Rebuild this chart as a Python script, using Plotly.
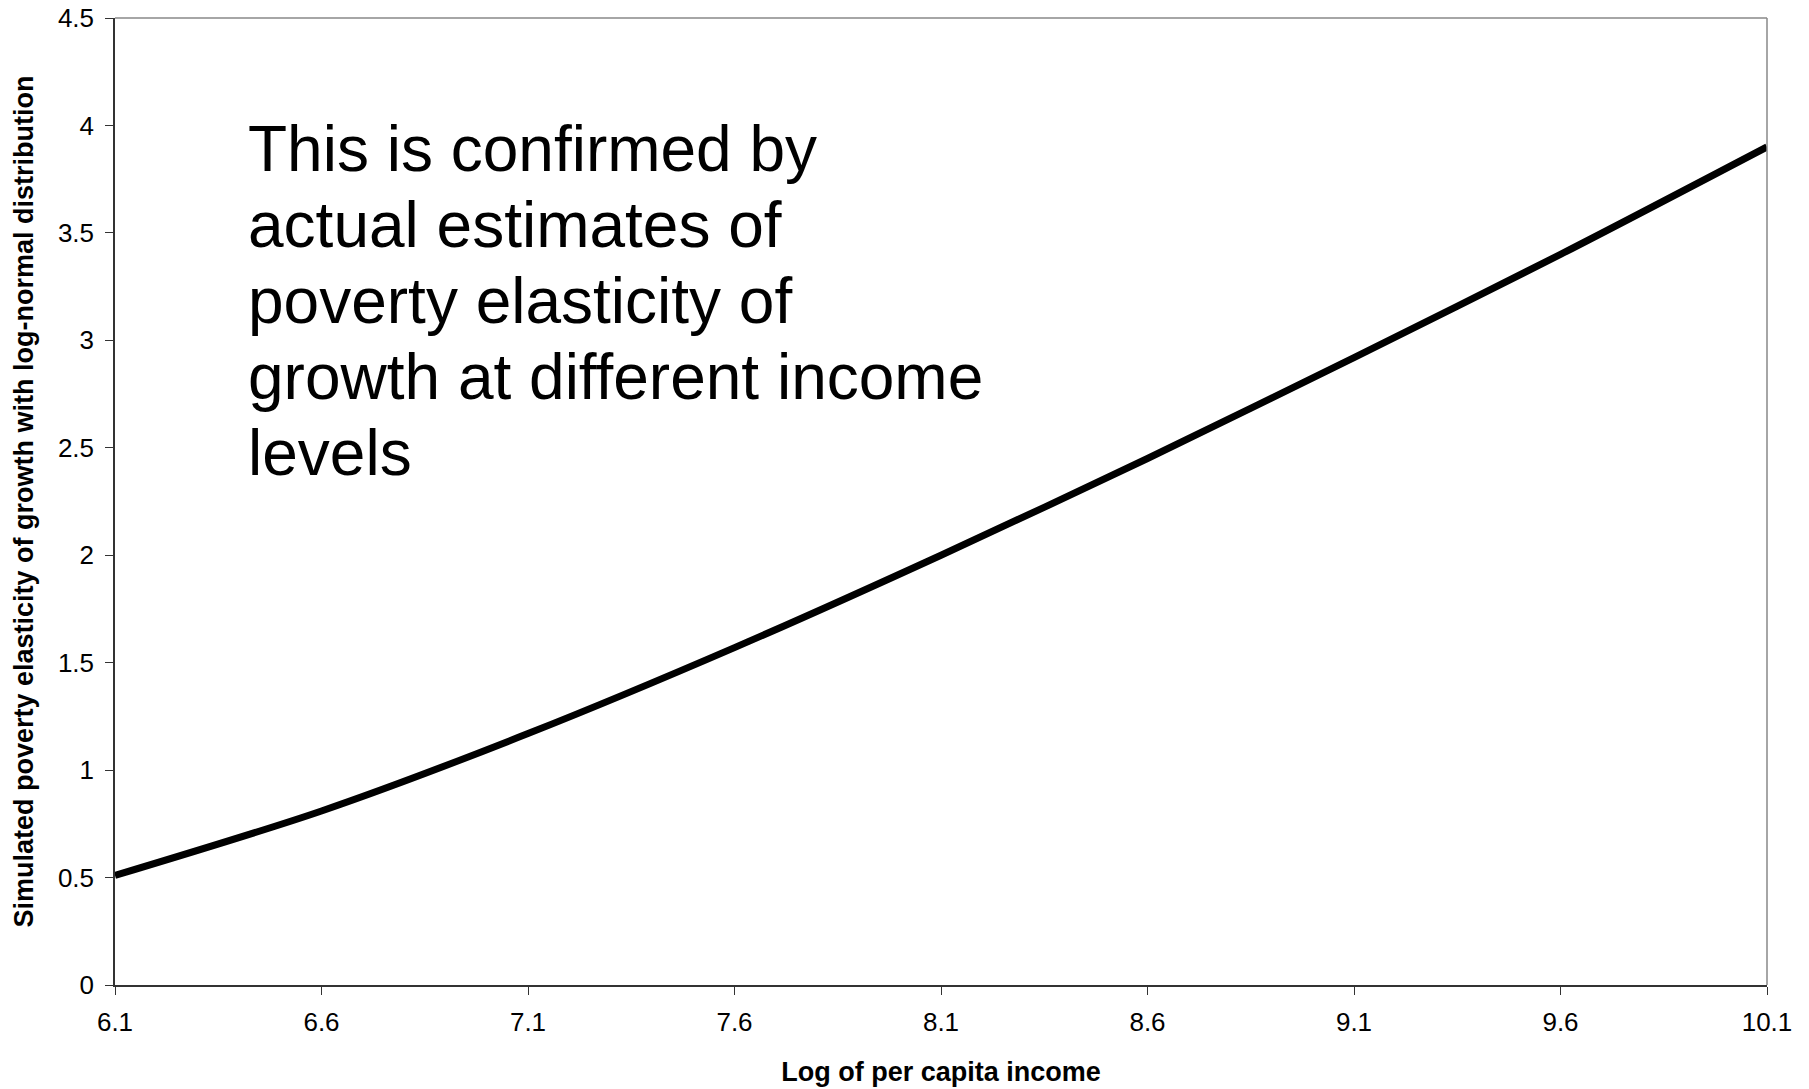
import plotly.graph_objects as go

# Data
log_income = [6.1, 6.6, 7.1, 7.6, 8.1, 8.6, 9.1, 9.6, 10.1]
elasticity = [0.51, 0.81, 1.17, 1.57, 2.00, 2.45, 2.92, 3.40, 3.90]

x_ticks = [6.1, 6.6, 7.1, 7.6, 8.1, 8.6, 9.1, 9.6, 10.1]
x_tick_text = ["6.1", "6.6", "7.1", "7.6", "8.1", "8.6", "9.1", "9.6", "10.1"]
y_ticks = [0, 0.5, 1, 1.5, 2, 2.5, 3, 3.5, 4, 4.5]
y_tick_text = ["0", "0.5", "1", "1.5", "2", "2.5", "3", "3.5", "4", "4.5"]

x_title = "Log of per capita income"
y_title = "Simulated poverty elasticity of growth with log-normal distribution"
note_lines = [
    "This is confirmed by",
    "actual estimates of",
    "poverty elasticity of",
    "growth at different income",
    "levels",
]

FONT = "Liberation Sans, Arial, Helvetica, sans-serif"

fig = go.Figure()
fig.add_trace(
    go.Scatter(
        x=log_income,
        y=elasticity,
        mode="lines",
        line=dict(color="black", width=7, shape="spline", smoothing=0.8),
        hoverinfo="x+y",
        showlegend=False,
    )
)

axis_common = dict(
    showgrid=False,
    zeroline=False,
    showline=True,
    linecolor="#333333",
    linewidth=1.5,
    ticks="outside",
    ticklen=8,
    tickwidth=1,
    tickcolor="#333333",
    tickfont=dict(family=FONT, size=26, color="black"),
    ticklabeloverflow="allow",
)

fig.update_xaxes(
    range=[6.1, 10.1],
    tickmode="array",
    tickvals=x_ticks,
    ticktext=x_tick_text,
    ticklabelstandoff=5,
    title=dict(text="<b>" + x_title + "</b>", font=dict(family=FONT, size=27, color="black"), standoff=26),
    automargin=False,
    **axis_common,
)
fig.update_yaxes(
    range=[0, 4.5],
    tickmode="array",
    tickvals=y_ticks,
    ticktext=y_tick_text,
    ticklabelstandoff=6,
    title=dict(text="<b>" + y_title + "</b>", font=dict(family=FONT, size=27, color="black"), standoff=16),
    automargin=False,
    **axis_common,
)

# plot-area border on top and right (gray, as in the reference)
fig.add_shape(type="line", xref="paper", yref="paper", x0=0, x1=1, y0=1, y1=1,
              line=dict(color="#888888", width=1.5))
fig.add_shape(type="line", xref="paper", yref="paper", x0=1, x1=1, y0=0, y1=1,
              line=dict(color="#888888", width=1.5))

# the note text, one annotation per line for tighter line spacing
note_top = 0.904
note_step = 0.0786
for i, line_text in enumerate(note_lines):
    fig.add_annotation(
        text=line_text,
        xref="paper",
        yref="paper",
        x=0.079,
        y=note_top - i * note_step,
        xanchor="left",
        yanchor="top",
        align="left",
        showarrow=False,
        font=dict(family=FONT, size=64, color="black"),
    )

fig.update_layout(
    width=1809,
    height=1089,
    margin=dict(l=115, r=42, t=18, b=104),
    paper_bgcolor="white",
    plot_bgcolor="white",
    font=dict(family=FONT, color="black"),
)

# remove the default page margin so the figure fills the window exactly
fig.write_html(
    "out.html",
    config={"displayModeBar": False},
    post_script="document.body.style.margin='0';",
)
